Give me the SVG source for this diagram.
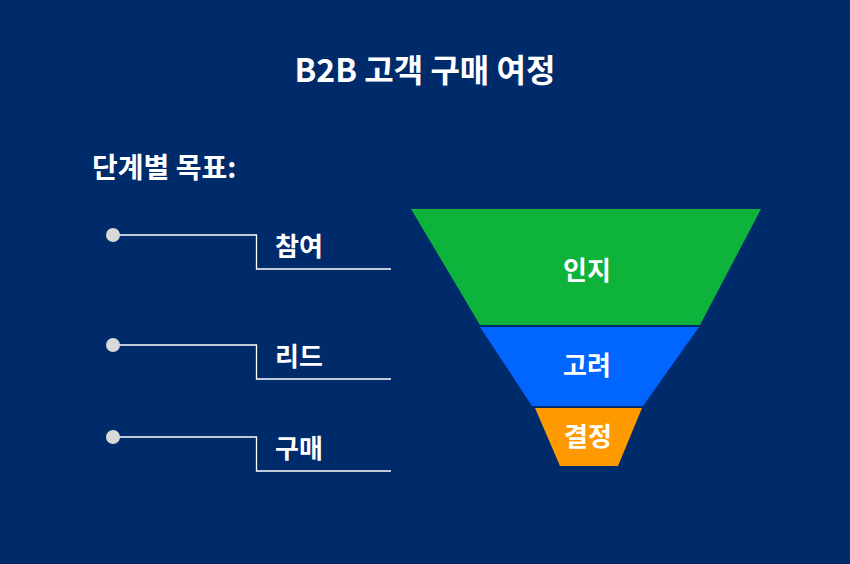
<svg xmlns="http://www.w3.org/2000/svg" width="850" height="564" viewBox="0 0 850 564">
<style>
text{font-family:"Noto Sans CJK KR","Noto Sans",sans-serif;fill:#fff;font-weight:bold}
.lbl{font-size:26px}
.ln{fill:none;stroke:#fff;stroke-width:1.3}
.dot{fill:#d9d9d9}
</style>
<rect width="850" height="564" fill="#002b6b"/>
<text x="425" y="82" text-anchor="middle" font-size="32">B2B 고객 구매 여정</text>
<text x="92" y="178" font-size="28">단계별 목표:</text>
<g id="connectors">
<path class="ln" d="M113 235H256.5V269H391"/>
<path class="ln" d="M113 345H256.5V379H391"/>
<path class="ln" d="M113 437H256.5V471H391"/>
<circle class="dot" cx="113" cy="235" r="7"/>
<circle class="dot" cx="113" cy="345" r="7"/>
<circle class="dot" cx="113" cy="437" r="7"/>
</g>
<g id="label-1"><text class="lbl" x="275" y="256">참여</text></g>
<g id="label-2"><text class="lbl" x="275" y="366">리드</text></g>
<g id="label-3"><text class="lbl" x="275" y="458">구매</text></g>
<g id="stage-1"><polygon points="411,209 761,209 700,325 480,325" fill="#0db33a"/><text class="lbl" x="587" y="280" text-anchor="middle">인지</text></g>
<g id="stage-2"><polygon points="480,327 699,327 643,406 532,406" fill="#0066ff"/><text class="lbl" x="587" y="375" text-anchor="middle">고려</text></g>
<g id="stage-3"><polygon points="535,408 642,408 618,466 560,466" fill="#ff9900"/><text class="lbl" x="588" y="446" text-anchor="middle">결정</text></g>
</svg>
